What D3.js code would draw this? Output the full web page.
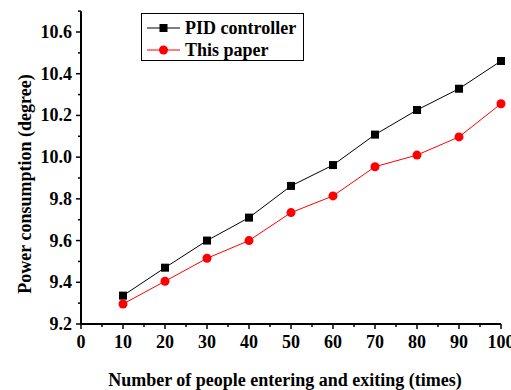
<!DOCTYPE html>
<html>
<head>
<meta charset="utf-8">
<script src="https://cdn.jsdelivr.net/npm/d3@7"></script>
<style>
  body { margin: 0; background: #fff; }
</style>
</head>
<body>
<div id="chart"></div>
<script>
// data
var times = [10, 20, 30, 40, 50, 60, 70, 80, 90, 100];
var pidValues = [9.336, 9.47, 9.60, 9.71, 9.862, 9.962, 10.108, 10.226, 10.328, 10.461];
var paperValues = [9.296, 9.405, 9.515, 9.60, 9.734, 9.814, 9.954, 10.010, 10.097, 10.256];
var xTicks = [0, 10, 20, 30, 40, 50, 60, 70, 80, 90, 100];
var yTicks = [9.2, 9.4, 9.6, 9.8, 10.0, 10.2, 10.4, 10.6];
var seriesNames = ["PID controller", "This paper"];

var fontFam = "'Liberation Serif'";

var width = 511, height = 390;
var svg = d3.select("#chart").append("svg")
    .attr("width", width)
    .attr("height", height);

// helper so every label gets the serif bold face
function label(sel, size) {
    return sel.style("font-family", fontFam)
        .style("font-weight", "bold")
        .style("font-size", size + "px");
}

//marker sizes
var sq = 8, rad = 4.5;

// scales
var x = d3.scaleLinear().domain([0, 100]).range([81, 501]);
var y = d3.scaleLinear().domain([9.2, 10.6]).range([324, 32]);

//x axis
var xAxis = svg.append("g")
    .attr("transform", "translate(0," + y(9.2) + ")");
xAxis.append("line")
    .attr("x1", x(0)).attr("x2", x(100))
    .attr("stroke", "black").attr("stroke-width", 2);
//minor ticks
xAxis.selectAll(".minor")
    .data(d3.range(5, 100, 10))
    .enter().append("line")
    .attr("x1", function(d){ return x(d); })
    .attr("x2", function(d){ return x(d); })
    .attr("y1", 0).attr("y2", 3)
    .attr("stroke", "black").attr("stroke-width", 1.5);
xAxis.selectAll(".major")
    .data(xTicks)
    .enter().append("line")
    .attr("x1", function(d){ return x(d); })
    .attr("x2", function(d){ return x(d); })
    .attr("y1", 0).attr("y2", 5)
    .attr("stroke", "black").attr("stroke-width", 1.5);
label(xAxis.selectAll("text")
    .data(xTicks)
    .enter().append("text")
    .attr("x", function(d){ return x(d); })
    .attr("y", 24)
    .attr("text-anchor", "middle"), 18)
    .text(function(d){ return d; });

//y axis
var yTop = 10.7;
var yAxis = svg.append("g")
    .attr("transform", "translate(" + x(0) + ",0)");
yAxis.append("line")
    .attr("y1", y(9.2) + 1).attr("y2", y(yTop))
    .attr("stroke", "black").attr("stroke-width", 2);
yAxis.selectAll(".minor")
    .data(d3.range(9.3, 10.75, 0.2))
    .enter().append("line")
    .attr("y1", function(d){ return y(d); })
    .attr("y2", function(d){ return y(d); })
    .attr("x1", 0).attr("x2", -3)
    .attr("stroke", "black").attr("stroke-width", 1.5);
yAxis.selectAll(".major")
    .data(yTicks)
    .enter().append("line")
    .attr("y1", function(d){ return y(d); })
    .attr("y2", function(d){ return y(d); })
    .attr("x1", 0).attr("x2", -5)
    .attr("stroke", "black").attr("stroke-width", 1.5);
label(yAxis.selectAll("text")
    .data(yTicks)
    .enter().append("text")
    .attr("x", -9)
    .attr("y", function(d){ return y(d) + 6; })
    .attr("text-anchor", "end"), 18)
    .text(function(d){ return d.toFixed(1); });

//axis titles
label(svg.append("text")
    .attr("x", 285).attr("y", 386)
    .attr("text-anchor", "middle"), 18)
    .text("Number of people entering and exiting (times)");
label(svg.append("text")
    .attr("transform", "translate(31,184) rotate(-90)")
    .attr("text-anchor", "middle"), 18)
    .text("Power consumption (degree)");

//series
var line = d3.line()
    .x(function(d){ return x(d[0]); })
    .y(function(d){ return y(d[1]); });

var pid = d3.zip(times, pidValues);
var paper = d3.zip(times, paperValues);

svg.append("path").datum(pid)
    .attr("d", line).attr("fill", "none")
    .attr("stroke", "black").attr("stroke-width", 1);
svg.append("path").datum(paper)
    .attr("d", line).attr("fill", "none")
    .attr("stroke", "red").attr("stroke-width", 1);

svg.selectAll(".pidpt")
    .data(pid)
    .enter().append("rect")
    .attr("x", function(d){ return x(d[0]) - sq / 2; })
    .attr("y", function(d){ return y(d[1]) - sq / 2; })
    .attr("width", sq).attr("height", sq)
    .attr("fill", "black");
svg.selectAll(".paperpt")
    .data(paper)
    .enter().append("circle")
    .attr("cx", function(d){ return x(d[0]); })
    .attr("cy", function(d){ return y(d[1]); })
    .attr("r", rad)
    .attr("fill", "red");

/////////////key//////////////
var legend = svg.append("g");
legend.append("rect")
    .attr("x", 141.5).attr("y", 13.5)
    .attr("width", 162).attr("height", 47)
    .attr("fill", "white").attr("stroke", "black").attr("stroke-width", 1);

var key = legend.selectAll(".key")
    .data(seriesNames)
    .enter().append("g")
    .attr("transform", function(d, i){ return "translate(0," + (28 + i * 22) + ")"; });
key.append("line")
    .attr("x1", 147).attr("x2", 180)
    .attr("stroke", function(d, i){ return i ? "red" : "black"; })
    .attr("stroke-width", 1);
key.each(function(d, i){
    var k = d3.select(this);
    if (i === 0) {
        k.append("rect").attr("x", 163.5 - sq / 2).attr("y", -sq / 2).attr("width", sq).attr("height", sq).attr("fill", "black");
    } else {
        k.append("circle").attr("cx", 163.5).attr("r", rad).attr("fill", "red");
    }
});
label(key.append("text")
    .attr("x", 185).attr("y", 6), 18)
    .text(function(d){ return d; });
</script>
</body>
</html>
